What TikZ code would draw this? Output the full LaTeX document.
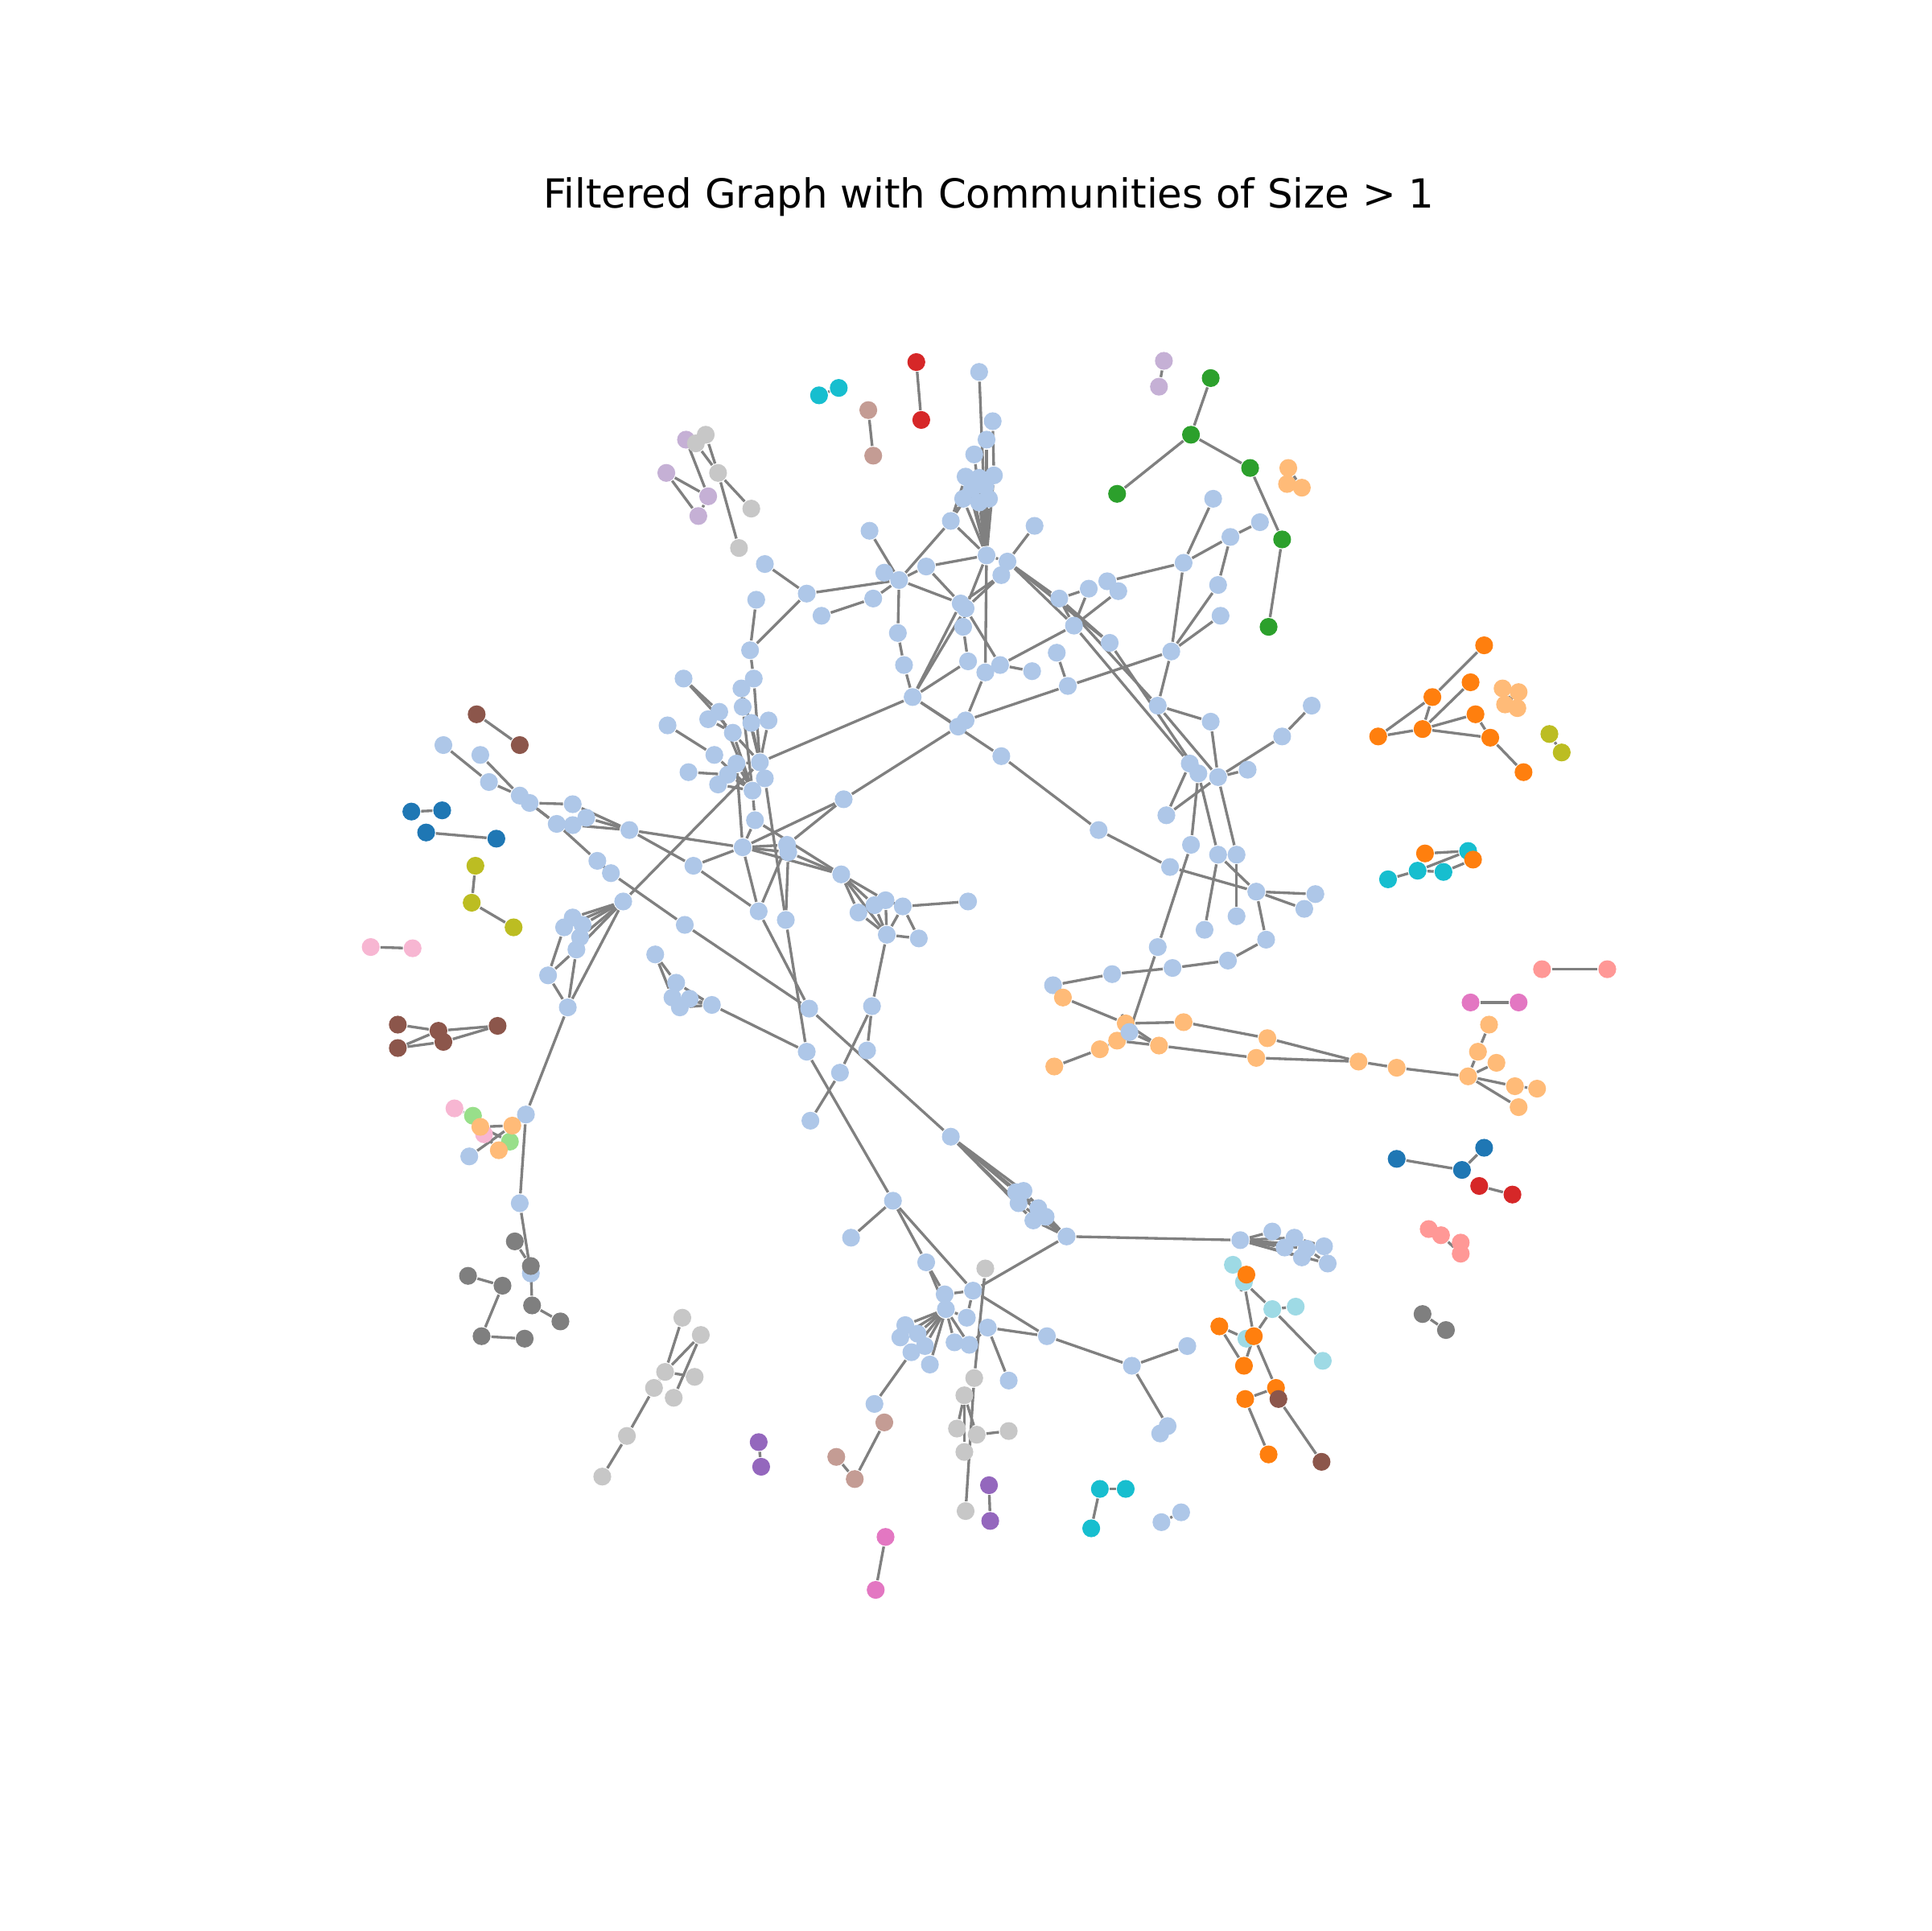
\documentclass[tikz,border=0pt]{standalone}
\usepackage{fontspec}
\setmainfont{DejaVu Sans}
\usepackage{tikz}
\usetikzlibrary{backgrounds}

\definecolor{tabblue}{HTML}{1F77B4}
\definecolor{tablblue}{HTML}{AEC7E8}
\definecolor{taborange}{HTML}{FF7F0E}
\definecolor{tablorange}{HTML}{FFBB78}
\definecolor{tabgreen}{HTML}{2CA02C}
\definecolor{tablgreen}{HTML}{98DF8A}
\definecolor{tabred}{HTML}{D62728}
\definecolor{tablred}{HTML}{FF9896}
\definecolor{tabpurple}{HTML}{9467BD}
\definecolor{tablpurple}{HTML}{C5B0D5}
\definecolor{tabbrown}{HTML}{8C564B}
\definecolor{tablbrown}{HTML}{C49C94}
\definecolor{tabpink}{HTML}{E377C2}
\definecolor{tablpink}{HTML}{F7B6D2}
\definecolor{tabgray}{HTML}{7F7F7F}
\definecolor{tablgray}{HTML}{C7C7C7}
\definecolor{tabolive}{HTML}{BCBD22}
\definecolor{tabcyan}{HTML}{17BECF}
\definecolor{tablcyan}{HTML}{9EDAE5}
\definecolor{edgegray}{HTML}{808080}

\begin{document}
\begin{tikzpicture}[x=0.1mm, y=-0.1mm]
      \tikzstyle{line} = [draw=edgegray, line width=0.62pt]
      \tikzstyle{main node} = [circle, inner sep=0pt, minimum size=1.45mm, draw=none]
      \tikzstyle{core node} = [main node, fill=tablblue]
      \tikzstyle{blue node} = [main node, fill=tabblue]
      \tikzstyle{orange node} = [main node, fill=taborange]
      \tikzstyle{peach node} = [main node, fill=tablorange]
      \tikzstyle{green node} = [main node, fill=tabgreen]
      \tikzstyle{mint node} = [main node, fill=tablgreen]
      \tikzstyle{red node} = [main node, fill=tabred]
      \tikzstyle{salmon node} = [main node, fill=tablred]
      \tikzstyle{purple node} = [main node, fill=tabpurple]
      \tikzstyle{lilac node} = [main node, fill=tablpurple]
      \tikzstyle{brown node} = [main node, fill=tabbrown]
      \tikzstyle{tan node} = [main node, fill=tablbrown]
      \tikzstyle{pink node} = [main node, fill=tabpink]
      \tikzstyle{rose node} = [main node, fill=tablpink]
      \tikzstyle{gray node} = [main node, fill=tabgray]
      \tikzstyle{silver node} = [main node, fill=tablgray]
      \tikzstyle{olive node} = [main node, fill=tabolive]
      \tikzstyle{cyan node} = [main node, fill=tabcyan]
      \tikzstyle{ice node} = [main node, fill=tablcyan]

      \useasboundingbox (0,0) rectangle (1568,1568);
      \node[font=\fontsize{9.26}{11}\selectfont] (title) at (803,160) {Filtered Graph with Communities of Size > 1};

      %nodes, main community
      \node[core node] (t1) at (795,302) {};
      \node[core node] (t2) at (806,342) {};
      \node[core node] (t3) at (801,357) {};
      \node[core node] (t4) at (791,369) {};
      \node[core node] (k1) at (784,387) {};
      \node[core node] (k2) at (795,388) {};
      \node[core node] (k3) at (807,386) {};
      \node[core node] (k4) at (789,397) {};
      \node[core node] (k5) at (800,395) {};
      \node[core node] (k6) at (782,405) {};
      \node[core node] (k7) at (803,405) {};
      \node[core node] (k8) at (795,408) {};
      \node[core node] (a1) at (772,423) {};
      \node[core node] (a2) at (706,431) {};
      \node[core node] (a3) at (840,427) {};
      \node[core node] (h1) at (801,451) {};
      \node[core node] (a4) at (818,456) {};
      \node[core node] (a5) at (813,467) {};
      \node[core node] (a6) at (718,465) {};
      \node[core node] (a7) at (730,471) {};
      \node[core node] (a8) at (752,460) {};
      \node[core node] (a9) at (655,482) {};
      \node[core node] (a10) at (709,486) {};
      \node[core node] (a11) at (667,500) {};
      \node[core node] (a12) at (780,490) {};
      \node[core node] (a13) at (784,494) {};
      \node[core node] (a14) at (729,514) {};
      \node[core node] (a15) at (782,509) {};
      \node[core node] (a16) at (786,537) {};
      \node[core node] (a17) at (812,540) {};
      \node[core node] (a18) at (734,540) {};
      \node[core node] (a19) at (860,486) {};
      \node[core node] (a20) at (884,478) {};
      \node[core node] (a21) at (899,472) {};
      \node[core node] (a22) at (908,480) {};
      \node[core node] (a23) at (872,508) {};
      \node[core node] (a24) at (901,522) {};
      \node[core node] (a25) at (858,530) {};
      \node[core node] (a26) at (961,457) {};
      \node[core node] (a27) at (951,529) {};
      \node[core node] (a28) at (985,405) {};
      \node[core node] (a29) at (621,458) {};
      \node[core node] (a30) at (614,487) {};
      \node[core node] (s1) at (609,528) {};
      \node[core node] (a31) at (838,545) {};
      \node[core node] (a32) at (867,557) {};
      \node[core node] (a33) at (940,573) {};
      \node[core node] (a34) at (983,586) {};
      \node[core node] (a35) at (741,566) {};
      \node[core node] (v1) at (800,546) {};
      \node[core node] (a37) at (784,585) {};
      \node[core node] (a38) at (778,590) {};
      \node[core node] (a39) at (813,614) {};
      \node[core node] (a40) at (966,620) {};
      \node[core node] (a41) at (973,628) {};
      \node[core node] (a42) at (947,662) {};
      \node[core node] (a43) at (967,686) {};
      \node[core node] (a44) at (950,704) {};
      \node[core node] (a45) at (892,674) {};
      \node[core node] (a46) at (685,649) {};
      \node[core node] (a48) at (639,686) {};
      \node[core node] (a49) at (640,692) {};
      \node[core node] (a50) at (683,710) {};
      \node[core node] (a51) at (719,731) {};
      \node[core node] (a52) at (710,735) {};
      \node[core node] (a53) at (697,741) {};
      \node[core node] (a54) at (733,736) {};
      \node[core node] (a55) at (786,732) {};
      \node[core node] (a56) at (720,759) {};
      \node[core node] (a57) at (746,762) {};
      \node[core node] (a58) at (638,747) {};
      \node[core node] (a59) at (940,769) {};
      \node[core node] (a60) at (952,786) {};
      \node[core node] (a61) at (903,791) {};
      \node[core node] (a62) at (978,755) {};
      \node[core node] (a63) at (855,800) {};
      \node[core node] (b1) at (1023,424) {};
      \node[core node] (b2) at (999,436) {};
      \node[core node] (b3) at (989,475) {};
      \node[core node] (b4) at (991,500) {};
      \node[core node] (e1) at (1065,573) {};
      \node[core node] (e2) at (1041,598) {};
      \node[core node] (e3) at (1013,625) {};
      \node[core node] (e4) at (989,631) {};
      \node[core node] (e5) at (989,694) {};
      \node[core node] (e6) at (1004,694) {};
      \node[core node] (e7) at (1020,724) {};
      \node[core node] (e8) at (1068,726) {};
      \node[core node] (e9) at (1059,738) {};
      \node[core node] (e10) at (1004,744) {};
      \node[core node] (e11) at (1028,763) {};
      \node[core node] (e12) at (997,780) {};
      \node[core node] (c1) at (360,605) {};
      \node[core node] (c2) at (390,613) {};
      \node[core node] (c3) at (397,635) {};
      \node[core node] (c4) at (422,646) {};
      \node[core node] (c5) at (430,652) {};
      \node[core node] (c6) at (465,653) {};
      \node[core node] (c7) at (452,669) {};
      \node[core node] (c8) at (465,670) {};
      \node[core node] (c9) at (476,664) {};
      \node[core node] (c10) at (511,674) {};
      \node[core node] (c11) at (485,699) {};
      \node[core node] (c12) at (496,709) {};
      \node[core node] (c13) at (506,732) {};
      \node[core node] (c14) at (563,703) {};
      \node[core node] (c15) at (603,688) {};
      \node[core node] (c16) at (616,740) {};
      \node[core node] (c17) at (556,751) {};
      \node[core node] (c18) at (532,775) {};
      \node[core node] (c19) at (465,745) {};
      \node[core node] (c20) at (458,753) {};
      \node[core node] (c21) at (473,751) {};
      \node[core node] (c22) at (471,761) {};
      \node[core node] (c23) at (468,771) {};
      \node[core node] (c24) at (445,792) {};
      \node[core node] (c25) at (555,551) {};
      \node[core node] (c26) at (612,551) {};
      \node[core node] (c27) at (602,559) {};
      \node[core node] (c28) at (603,574) {};
      \node[core node] (c29) at (584,578) {};
      \node[core node] (c30) at (575,584) {};
      \node[core node] (c31) at (542,589) {};
      \node[core node] (c32) at (610,587) {};
      \node[core node] (c33) at (624,585) {};
      \node[core node] (c34) at (595,595) {};
      \node[core node] (c35) at (580,613) {};
      \node[core node] (c36) at (559,627) {};
      \node[core node] (c37) at (598,620) {};
      \node[core node] (c38) at (591,629) {};
      \node[core node] (c39) at (583,637) {};
      \node[core node] (c40) at (617,619) {};
      \node[core node] (c41) at (621,632) {};
      \node[core node] (c42) at (611,642) {};
      \node[core node] (c43) at (613,666) {};
      \node[core node] (n1) at (549,798) {};
      \node[core node] (n2) at (546,810) {};
      \node[core node] (n3) at (552,818) {};
      \node[core node] (n4) at (560,811) {};
      \node[core node] (f1) at (461,818) {};
      \node[core node] (f2) at (578,816) {};
      \node[core node] (f3) at (427,905) {};
      \node[core node] (f4) at (422,977) {};
      \node[core node] (f5) at (381,939) {};
      \node[core node] (f6) at (431,1034) {};
      \node[core node] (g1) at (657,819) {};
      \node[core node] (g2) at (708,817) {};
      \node[core node] (g3) at (655,854) {};
      \node[core node] (g4) at (704,853) {};
      \node[core node] (g5) at (682,871) {};
      \node[core node] (g6) at (658,910) {};
      \node[core node] (g7) at (772,923) {};
      \node[core node] (g8) at (725,975) {};
      \node[core node] (g9) at (691,1005) {};
      \node[core node] (q1) at (825,968) {};
      \node[core node] (q2) at (831,967) {};
      \node[core node] (q3) at (827,977) {};
      \node[core node] (q4) at (843,981) {};
      \node[core node] (q5) at (849,988) {};
      \node[core node] (q6) at (839,991) {};
      \node[core node] (g10) at (866,1004) {};
      \node[core node] (g11) at (752,1025) {};
      \node[core node] (g12) at (767,1051) {};
      \node[core node] (g13) at (790,1048) {};
      \node[core node] (h2) at (768,1063) {};
      \node[core node] (m1) at (785,1070) {};
      \node[core node] (m2) at (802,1078) {};
      \node[core node] (m3) at (850,1085) {};
      \node[core node] (m4) at (919,1109) {};
      \node[core node] (m5) at (964,1093) {};
      \node[core node] (m6) at (948,1158) {};
      \node[core node] (m7) at (942,1164) {};
      \node[core node] (m8) at (959,1228) {};
      \node[core node] (m9) at (943,1236) {};
      \node[core node] (l1) at (735,1076) {};
      \node[core node] (l2) at (731,1086) {};
      \node[core node] (l3) at (745,1083) {};
      \node[core node] (l4) at (740,1098) {};
      \node[core node] (l5) at (751,1093) {};
      \node[core node] (l6) at (755,1108) {};
      \node[core node] (l7) at (775,1090) {};
      \node[core node] (l8) at (787,1092) {};
      \node[core node] (l9) at (819,1121) {};
      \node[core node] (l10) at (710,1140) {};
      \node[core node] (r1) at (1007,1007) {};
      \node[core node] (r2) at (1033,1000) {};
      \node[core node] (r3) at (1051,1005) {};
      \node[core node] (r4) at (1043,1013) {};
      \node[core node] (r5) at (1061,1014) {};
      \node[core node] (r6) at (1057,1021) {};
      \node[core node] (r7) at (1075,1012) {};
      \node[core node] (r8) at (1078,1026) {};

      %nodes, small communities
      \node[lilac node] (pu1) at (557,357) {};
      \node[lilac node] (pu2) at (541,384) {};
      \node[lilac node] (pu3) at (575,403) {};
      \node[lilac node] (pu4) at (567,419) {};
      \node[lilac node] (pu5) at (945,293) {};
      \node[lilac node] (pu6) at (941,314) {};
      \node[silver node] (sg1) at (573,353) {};
      \node[silver node] (sg2) at (565,360) {};
      \node[silver node] (sg3) at (583,384) {};
      \node[silver node] (sg4) at (610,413) {};
      \node[silver node] (sg5) at (600,445) {};
      \node[silver node] (sg6) at (800,1030) {};
      \node[silver node] (sg7) at (554,1070) {};
      \node[silver node] (sg8) at (569,1084) {};
      \node[silver node] (sg9) at (540,1114) {};
      \node[silver node] (sg10) at (564,1118) {};
      \node[silver node] (sg11) at (531,1127) {};
      \node[silver node] (sg12) at (547,1135) {};
      \node[silver node] (sg13) at (509,1166) {};
      \node[silver node] (sg14) at (489,1199) {};
      \node[silver node] (sg15) at (791,1119) {};
      \node[silver node] (sg16) at (783,1133) {};
      \node[silver node] (sg17) at (777,1160) {};
      \node[silver node] (sg18) at (793,1165) {};
      \node[silver node] (sg19) at (819,1162) {};
      \node[silver node] (sg20) at (783,1179) {};
      \node[silver node] (sg21) at (784,1227) {};
      \node[cyan node] (cy1) at (665,321) {};
      \node[cyan node] (cy2) at (681,315) {};
      \node[cyan node] (cy3) at (1192,691) {};
      \node[cyan node] (cy4) at (1151,707) {};
      \node[cyan node] (cy5) at (1172,708) {};
      \node[cyan node] (cy6) at (1127,714) {};
      \node[cyan node] (cy7) at (893,1209) {};
      \node[cyan node] (cy8) at (914,1209) {};
      \node[cyan node] (cy9) at (886,1241) {};
      \node[tan node] (tn1) at (705,333) {};
      \node[tan node] (tn2) at (709,370) {};
      \node[tan node] (tn3) at (718,1155) {};
      \node[tan node] (tn4) at (679,1183) {};
      \node[tan node] (tn5) at (694,1201) {};
      \node[red node] (rd1) at (744,294) {};
      \node[red node] (rd2) at (748,341) {};
      \node[red node] (rd3) at (1201,963) {};
      \node[red node] (rd4) at (1228,970) {};
      \node[green node] (gr1) at (983,307) {};
      \node[green node] (gr2) at (967,353) {};
      \node[green node] (gr3) at (907,401) {};
      \node[green node] (gr4) at (1015,380) {};
      \node[green node] (gr5) at (1041,438) {};
      \node[green node] (gr6) at (1030,509) {};
      \node[peach node] (pc1) at (1046,380) {};
      \node[peach node] (pc2) at (1045,393) {};
      \node[peach node] (pc3) at (1057,396) {};
      \node[peach node] (pc4) at (1220,559) {};
      \node[peach node] (pc5) at (1233,562) {};
      \node[peach node] (pc6) at (1222,572) {};
      \node[peach node] (pc7) at (1232,575) {};
      \node[orange node] (or1) at (1205,524) {};
      \node[orange node] (or2) at (1163,566) {};
      \node[orange node] (or3) at (1194,554) {};
      \node[orange node] (or4) at (1198,580) {};
      \node[orange node] (or5) at (1155,592) {};
      \node[orange node] (or6) at (1119,598) {};
      \node[orange node] (or7) at (1210,599) {};
      \node[orange node] (or8) at (1237,627) {};
      \node[orange node] (or9) at (1157,693) {};
      \node[orange node] (or10) at (1196,698) {};
      \node[olive node] (ol1) at (1258,596) {};
      \node[olive node] (ol2) at (1268,611) {};
      \node[olive node] (ol3) at (386,703) {};
      \node[olive node] (ol4) at (383,733) {};
      \node[olive node] (ol5) at (417,753) {};
      \node[brown node] (br1) at (387,580) {};
      \node[brown node] (br2) at (422,605) {};
      \node[brown node] (br3) at (323,832) {};
      \node[brown node] (br4) at (356,837) {};
      \node[brown node] (br5) at (360,846) {};
      \node[brown node] (br6) at (323,851) {};
      \node[brown node] (br7) at (404,833) {};
      \node[blue node] (db1) at (334,659) {};
      \node[blue node] (db2) at (359,658) {};
      \node[blue node] (db3) at (346,676) {};
      \node[blue node] (db4) at (403,681) {};
      \node[blue node] (db5) at (1134,941) {};
      \node[blue node] (db6) at (1187,950) {};
      \node[blue node] (db7) at (1205,932) {};
      \node[rose node] (lk1) at (301,769) {};
      \node[rose node] (lk2) at (335,770) {};
      \node[rose node] (lk3) at (369,900) {};
      \node[rose node] (lk4) at (393,921) {};
      \node[mint node] (lg1) at (384,906) {};
      \node[mint node] (lg2) at (414,927) {};
      \node[peach node] (pc8) at (390,915) {};
      \node[peach node] (pc9) at (416,914) {};
      \node[peach node] (pc10) at (405,934) {};
      \node[gray node] (dg1) at (418,1008) {};
      \node[gray node] (dg2) at (431,1028) {};
      \node[gray node] (dg3) at (380,1036) {};
      \node[gray node] (dg4) at (408,1044) {};
      \node[gray node] (dg5) at (432,1060) {};
      \node[gray node] (dg6) at (455,1073) {};
      \node[gray node] (dg7) at (391,1085) {};
      \node[gray node] (dg8) at (426,1087) {};
      \node[gray node] (dg9) at (1155,1067) {};
      \node[gray node] (dg10) at (1174,1080) {};
      \node[salmon node] (sa1) at (1252,787) {};
      \node[salmon node] (sa2) at (1305,787) {};
      \node[salmon node] (sa3) at (1160,998) {};
      \node[salmon node] (sa4) at (1170,1003) {};
      \node[salmon node] (sa5) at (1186,1009) {};
      \node[salmon node] (sa6) at (1186,1018) {};
      \node[pink node] (pk1) at (1194,814) {};
      \node[pink node] (pk2) at (1233,814) {};
      \node[pink node] (pk3) at (719,1248) {};
      \node[pink node] (pk4) at (711,1291) {};
      \node[purple node] (vi1) at (616,1171) {};
      \node[purple node] (vi2) at (618,1191) {};
      \node[purple node] (vi3) at (803,1206) {};
      \node[purple node] (vi4) at (804,1235) {};
      \node[ice node] (lc1) at (1001,1027) {};
      \node[ice node] (lc2) at (1010,1041) {};
      \node[ice node] (lc3) at (1033,1063) {};
      \node[ice node] (lc4) at (1052,1061) {};
      \node[ice node] (lc5) at (1074,1105) {};
      \node[ice node] (lc6) at (1012,1087) {};
      \node[orange node] (or17) at (1012,1035) {};
      \node[orange node] (or11) at (990,1077) {};
      \node[orange node] (or12) at (1018,1085) {};
      \node[orange node] (or13) at (1010,1109) {};
      \node[orange node] (or14) at (1036,1127) {};
      \node[orange node] (or15) at (1011,1136) {};
      \node[orange node] (or16) at (1030,1181) {};
      \node[brown node] (br8) at (1038,1136) {};
      \node[brown node] (br9) at (1073,1187) {};
      \node[peach node] (ch1) at (863,810) {};
      \node[peach node] (ch2) at (914,831) {};
      \node[peach node] (ch3) at (961,830) {};
      \node[peach node] (ch4) at (907,845) {};
      \node[peach node] (ch5) at (893,852) {};
      \node[peach node] (ch6) at (941,849) {};
      \node[peach node] (ch7) at (856,866) {};
      \node[peach node] (ch8) at (1029,843) {};
      \node[peach node] (ch9) at (1020,859) {};
      \node[peach node] (ch10) at (1103,862) {};
      \node[peach node] (ch11) at (1134,867) {};
      \node[peach node] (ch12) at (1192,874) {};
      \node[peach node] (ch13) at (1209,832) {};
      \node[peach node] (ch14) at (1200,854) {};
      \node[peach node] (ch15) at (1215,863) {};
      \node[peach node] (ch16) at (1230,882) {};
      \node[peach node] (ch17) at (1248,884) {};
      \node[peach node] (ch18) at (1233,899) {};
      \node[core node] (w0) at (917,838) {};

      %lines
      \begin{scope}[on background layer]
      \path [line] (h1) edge (t1) edge (t3) edge (t4) edge (k1) edge (k2) edge (k3) edge (k4) edge (k5) edge (k6) edge (k7) edge (k8) edge (a1) edge (a8) edge (a13) edge (a4) edge (v1);
      \path [line] (t2) edge (k3);
      \path [line] (a1) edge (k1) edge (k4) edge (k6) edge (a7);
      \path [line] (a7) edge (a2) edge (a6) edge (a8) edge (a9) edge (a10) edge (a14) edge (a12);
      \path [line] (a9) edge (a29) edge (s1);
      \path [line] (s1) edge (a30) edge (c26);
      \path [line] (a10) edge (a11);
      \path [line] (a14) edge (a18);
      \path [line] (a12) edge (a8) edge (a5) edge (a35);
      \path [line] (a13) edge (a5) edge (a35) edge (a15) edge (a17);
      \path [line] (a15) edge (a16);
      \path [line] (a4) edge (a3) edge (a19) edge (a23) edge (a24);
      \path [line] (a19) edge (a20) edge (a24) edge (a23) edge (a33);
      \path [line] (a23) edge (a20) edge (a22) edge (a17) edge (a40);
      \path [line] (a24) edge (a41);
      \path [line] (a26) edge (a21) edge (a27) edge (a28) edge (b2);
      \path [line] (b2) edge (b1) edge (b3);
      \path [line] (a27) edge (b3) edge (b4) edge (a33) edge (a32);
      \path [line] (a32) edge (a25) edge (a37);
      \path [line] (a17) edge (a31);
      \path [line] (a35) edge (a18) edge (a16) edge (a38) edge (a39) edge (c40);
      \path [line] (a37) edge (v1);
      \path [line] (a46) edge (a38) edge (c15) edge (a48);
      \path [line] (a45) edge (a39) edge (a44);
      \path [line] (a44) edge (e7);
      \path [line] (a43) edge (a59) edge (a41);
      \path [line] (a42) edge (a40) edge (e4);
      \path [line] (a33) edge (a34) edge (e4);
      \path [line] (e4) edge (e2) edge (e3) edge (a34) edge (e6);
      \path [line] (e2) edge (e1);
      \path [line] (e6) edge (e10);
      \path [line] (e5) edge (e7) edge (a41) edge (a62);
      \path [line] (e7) edge (e8) edge (e9) edge (e11);
      \path [line] (e12) edge (e11) edge (a60);
      \path [line] (a61) edge (a60) edge (a63);
      \path [line] (a59) edge (w0);
      \path [line] (a56) edge (a50) edge (a51) edge (a52) edge (a53) edge (a54) edge (a57) edge (g2);
      \path [line] (a50) edge (a51) edge (a52) edge (a53) edge (a49) edge (c43) edge (c15);
      \path [line] (a54) edge (a51) edge (a55) edge (a57);
      \path [line] (a58) edge (a49) edge (c41) edge (g3);
      \path [line] (c15) edge (a48) edge (a49) edge (c43) edge (c10) edge (c14) edge (c16) edge (c37);
      \path [line] (c16) edge (a48) edge (c14) edge (g1);
      \path [line] (c42) edge (c43) edge (c29) edge (c34) edge (c35) edge (c37) edge (c38) edge (c39) edge (c28);
      \path [line] (c40) edge (c26) edge (c32) edge (c33) edge (c34) edge (c37) edge (c27) edge (c13) edge (c41);
      \path [line] (c25) edge (c29) edge (c34);
      \path [line] (c31) edge (c35);
      \path [line] (c30) edge (c34);
      \path [line] (c36) edge (c38);
      \path [line] (c27) edge (c28);
      \path [line] (c4) edge (c3) edge (c2) edge (c5) edge (c7);
      \path [line] (c3) edge (c1);
      \path [line] (c5) edge (c6) edge (c7);
      \path [line] (c10) edge (c6) edge (c8) edge (c9) edge (c14);
      \path [line] (c7) edge (c8) edge (c9) edge (c11);
      \path [line] (c12) edge (c11) edge (c17);
      \path [line] (g1) edge (c17) edge (g7);
      \path [line] (c13) edge (c19) edge (c20) edge (c21) edge (c22) edge (c23) edge (f1);
      \path [line] (f1) edge (c23) edge (c24) edge (f3);
      \path [line] (c24) edge (c20) edge (c23);
      \path [line] (c18) edge (n1) edge (n2);
      \path [line] (f2) edge (n1) edge (n2) edge (n3) edge (n4) edge (g3);
      \path [line] (f3) edge (f4);
      \path [line] (f4) edge (f6);
      \path [line] (g3) edge (g8);
      \path [line] (g2) edge (g4) edge (g5);
      \path [line] (g5) edge (g6);
      \path [line] (g7) edge (q1) edge (q2) edge (q3) edge (q4) edge (q6);
      \path [line] (g10) edge (q1) edge (q2) edge (q3) edge (q4) edge (q5) edge (q6) edge (r1) edge (g13);
      \path [line] (g8) edge (g9) edge (g11) edge (g13);
      \path [line] (g11) edge (g12) edge (h2);
      \path [line] (g12) edge (g13);
      \path [line] (h2) edge (l1) edge (l2) edge (l3) edge (l4) edge (l5) edge (l6) edge (l7) edge (l8) edge (m1);
      \path [line] (l4) edge (l10);
      \path [line] (m1) edge (g13);
      \path [line] (m2) edge (m3) edge (l8) edge (l9);
      \path [line] (m3) edge (g13) edge (m4);
      \path [line] (m4) edge (m5) edge (m6);
      \path [line] (m6) edge (m7);
      \path [line] (m8) edge (m9);
      \path [line] (r1) edge (r2) edge (r3) edge (r4) edge (r5) edge (r6) edge (r7) edge (r8);
      \path [line] (r5) edge (r8);
      \path [line] (r3) edge (r7);
      \path [line] (pu3) edge (pu1) edge (pu2) edge (pu4);
      \path [line] (pu2) edge (pu4);
      \path [line] (sg3) edge (sg1) edge (sg2) edge (sg4) edge (sg5);
      \path [line] (pu5) edge (pu6);
      \path [line] (cy1) edge (cy2);
      \path [line] (tn1) edge (tn2);
      \path [line] (rd1) edge (rd2);
      \path [line] (gr2) edge (gr1) edge (gr3) edge (gr4);
      \path [line] (gr5) edge (gr4) edge (gr6);
      \path [line] (pc3) edge (pc1) edge (pc2);
      \path [line] (or2) edge (or1) edge (or5) edge (or6);
      \path [line] (or5) edge (or3) edge (or4) edge (or6) edge (or7);
      \path [line] (or7) edge (or4) edge (or8);
      \path [line] (pc4) edge (pc7);
      \path [line] (pc5) edge (pc6);
      \path [line] (ol1) edge (ol2);
      \path [line] (cy3) edge (or9) edge (cy4);
      \path [line] (cy4) edge (cy6) edge (cy5);
      \path [line] (cy5) edge (or10);
      \path [line] (sa1) edge (sa2);
      \path [line] (pk1) edge (pk2);
      \path [line] (db5) edge (db6);
      \path [line] (db6) edge (db7);
      \path [line] (rd3) edge (rd4);
      \path [line] (sa4) edge (sa3) edge (sa6);
      \path [line] (sa5) edge (sa6);
      \path [line] (dg9) edge (dg10);
      \path [line] (lc2) edge (or17) edge (or12) edge (lc3);
      \path [line] (lc3) edge (lc4) edge (or12) edge (lc5);
      \path [line] (or11) edge (lc6) edge (or13);
      \path [line] (or13) edge (or12);
      \path [line] (or14) edge (or12) edge (or15);
      \path [line] (or15) edge (or16);
      \path [line] (br8) edge (br9);
      \path [line] (br1) edge (br2);
      \path [line] (db1) edge (db2);
      \path [line] (db3) edge (db4);
      \path [line] (ol4) edge (ol3) edge (ol5);
      \path [line] (lk1) edge (lk2);
      \path [line] (br4) edge (br3) edge (br7) edge (br6);
      \path [line] (br5) edge (br6) edge (br7);
      \path [line] (lg1) edge (lk3);
      \path [line] (pc8) edge (pc9) edge (lg2);
      \path [line] (lk4) edge (pc10);
      \path [line] (f5) edge (pc9);
      \path [line] (dg2) edge (dg1) edge (dg5);
      \path [line] (dg5) edge (dg6);
      \path [line] (dg4) edge (dg3) edge (dg7);
      \path [line] (dg7) edge (dg8);
      \path [line] (sg9) edge (sg7) edge (sg8) edge (sg10) edge (sg11);
      \path [line] (sg8) edge (sg12);
      \path [line] (sg13) edge (sg11) edge (sg14);
      \path [line] (vi1) edge (vi2);
      \path [line] (vi3) edge (vi4);
      \path [line] (pk3) edge (pk4);
      \path [line] (cy7) edge (cy8) edge (cy9);
      \path [line] (tn5) edge (tn3) edge (tn4);
      \path [line] (sg15) edge (sg6) edge (sg21);
      \path [line] (sg16) edge (sg17) edge (sg18) edge (sg20);
      \path [line] (sg18) edge (sg19);
      \path [line] (ch1) edge (a63) edge (ch2);
      \path [line] (ch2) edge (ch3) edge (ch6) edge (w0);
      \path [line] (ch6) edge (ch4) edge (ch9) edge (w0);
      \path [line] (ch5) edge (ch4) edge (ch7);
      \path [line] (ch8) edge (ch3) edge (ch10);
      \path [line] (ch10) edge (ch9) edge (ch11);
      \path [line] (ch12) edge (ch11) edge (ch14) edge (ch15) edge (ch16) edge (ch18);
      \path [line] (ch14) edge (ch13);
      \path [line] (ch16) edge (ch17);
      \end{scope}
\end{tikzpicture}
\end{document}
